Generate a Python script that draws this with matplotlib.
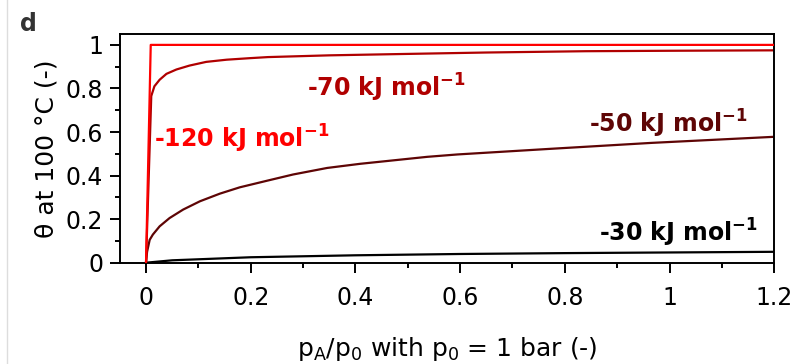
import matplotlib
matplotlib.use("Agg")
import matplotlib.pyplot as plt
from matplotlib.ticker import MultipleLocator
from matplotlib.lines import Line2D

plt.rcParams["font.family"] = "DejaVu Sans"
plt.rcParams["mathtext.default"] = "regular"

# coverage curves at 100 °C, read per adsorption energy
p_120 = [0.0, 0.009, 1.2]
theta_120 = [0.0, 1.0, 1.0]

p_70 = [0.0, 0.010, 0.016, 0.026, 0.039, 0.058, 0.083, 0.115, 0.154, 0.198,
        0.233, 0.35, 0.486, 0.65, 0.84, 1.0, 1.2]
theta_70 = [0.0, 0.765, 0.81, 0.84, 0.867, 0.887, 0.905, 0.922, 0.932, 0.939,
            0.944, 0.952, 0.958, 0.965, 0.971, 0.973, 0.975]

p_50 = [0.0, 0.002, 0.007, 0.013, 0.026, 0.045, 0.071, 0.103, 0.141, 0.179,
        0.234, 0.281, 0.346, 0.409, 0.473, 0.537, 0.595, 0.774, 0.965, 1.2]
theta_50 = [0.0, 0.05, 0.105, 0.129, 0.167, 0.205, 0.244, 0.282, 0.317, 0.346,
            0.378, 0.405, 0.435, 0.454, 0.470, 0.486, 0.497, 0.523, 0.550, 0.578]

p_30 = [0.0, 0.05, 0.2, 0.4, 0.6, 0.8, 1.0, 1.2]
theta_30 = [0.0, 0.011, 0.025, 0.034, 0.040, 0.044, 0.047, 0.050]

c120 = "#ff0000"
c70 = "#b00000"
c50 = "#5e0505"
c30 = "#000000"

fig = plt.figure(figsize=(7.99, 3.64), dpi=100)
ax = fig.add_axes([0.150, 0.2783, 0.819, 0.6283])

ax.plot(p_30, theta_30, color=c30, lw=1.6, zorder=2)
ax.plot(p_50, theta_50, color=c50, lw=1.6, zorder=2)
ax.plot(p_70, theta_70, color=c70, lw=1.6, zorder=2)
ax.plot(p_120, theta_120, color=c120, lw=1.6, zorder=3)

lbl = dict(fontsize=17, fontweight="bold", ha="left", va="baseline")
ax.text(0.016, 0.529, r"-120 kJ mol$^{\mathbf{-1}}$", color=c120, **lbl)
ax.text(0.308, 0.763, r"-70 kJ mol$^{\mathbf{-1}}$", color=c70, **lbl)
ax.text(0.847, 0.598, r"-50 kJ mol$^{\mathbf{-1}}$", color=c50, **lbl)
ax.text(0.866, 0.097, r"-30 kJ mol$^{\mathbf{-1}}$", color=c30, **lbl)

ax.set_xlim(-0.05, 1.2)
ax.set_ylim(0, 1.05)
ax.xaxis.set_minor_locator(MultipleLocator(0.1))
ax.yaxis.set_minor_locator(MultipleLocator(0.1))
ax.set_xticks([0, 0.2, 0.4, 0.6, 0.8, 1.0, 1.2])
ax.set_xticklabels(["0", "0.2", "0.4", "0.6", "0.8", "1", "1.2"])
ax.set_yticks([0, 0.2, 0.4, 0.6, 0.8, 1.0])
ax.set_yticklabels(["0", "0.2", "0.4", "0.6", "0.8", "1"])

for s in ax.spines.values():
    s.set_linewidth(1.4)
ax.tick_params(which="major", direction="out", length=7, width=1.4,
               labelsize=17)
ax.tick_params(which="minor", direction="out", length=3.5, width=1.4)
ax.tick_params(axis="x", which="major", pad=10)
ax.tick_params(axis="y", which="major", pad=5)

ax.set_xlabel(r"p$_\mathregular{A}$/p$_\mathregular{0}$ with p$_\mathregular{0}$ = 1 bar (-)",
              fontsize=18, labelpad=18)
ax.set_ylabel("θ at 100 °C (-)", fontsize=18, labelpad=5)

fig.text(0.025, 0.915, "d", fontsize=17, fontweight="bold", color="#333333")
fig.add_artist(Line2D([0.009, 0.009], [0, 1], transform=fig.transFigure,
                      color="#dddddd", lw=1))

fig.savefig("out.png", dpi=100)
